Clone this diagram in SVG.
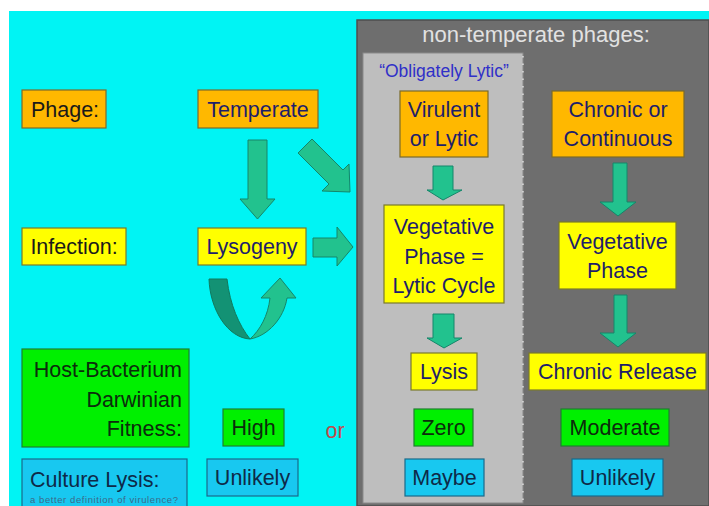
<svg xmlns="http://www.w3.org/2000/svg" width="709" height="506" viewBox="0 0 709 506">
<style>
text{font-family:"Liberation Sans",Arial,sans-serif;font-size:21.5px;text-anchor:middle}
.or{fill:#FFB800;stroke:#7A6A2A;stroke-width:1.2}
.ye{fill:#FFFF00;stroke:#7A7A2A;stroke-width:1.2}
.gr{fill:#00F000;stroke:#1F7F2F;stroke-width:1.2}
.bl{fill:#18C8F0;stroke:#1A6A8A;stroke-width:1.2}
.tn{fill:#1E1E6A}
.tk{fill:#1A1A1A}
.tg{fill:#0C2C0C}
.tb{fill:#0E2A48}
.arr{fill:#22C28E;stroke:#14866A;stroke-width:1}
</style>
<rect x="0" y="0" width="709" height="506" fill="#FFFFFF"/>
<rect x="9" y="11" width="700" height="495" fill="#00F4F4"/>
<rect x="357" y="20" width="352" height="486" fill="#6E6E6E" stroke="#4E4E4E" stroke-width="1.5"/>
<rect x="363" y="53" width="160" height="450" fill="#BEBEBE" stroke="#8A8A8A" stroke-width="1"/>
<line x1="523" y1="56" x2="523" y2="500" stroke="#F0F0F0" stroke-width="1.2" stroke-dasharray="1.5 6"/>
<text x="536" y="42" style="font-size:22px;fill:#E2E2E2">non-temperate phages:</text>
<text x="444" y="77" style="font-size:17.5px;fill:#3030C8">“Obligately Lytic”</text>

<g id="connectors">
<polygon class="arr" points="248,140 267,140 267,199 275,199 257.5,219 240,199 248,199"/>
<polygon class="arr" points="298,153 312,139 343,170 349,164 350,192 322,191 329,184"/>
<polygon class="arr" points="313,238 337,238 337,227 353,247 337,266 337,257 313,257"/>
<path d="M209,279 L227,279 C230,305 239,325 250,339 C228,338 210,310 209,279 Z" fill="#139274" stroke="#0F7A5E" stroke-width="1"/>
<path d="M250,339 C268,336 284,318 287,298 L296,298 L280,278 L261,298 L270,298 C268,316 260,330 250,339 Z" class="arr"/>
<polygon class="arr" points="433,166 453,166 453,190 462,190 443,200 427,190 433,190"/>
<polygon class="arr" points="613,163 627,163 627,202 636,202 618,216 600,202 613,202"/>
<polygon class="arr" points="433,314 454,314 454,338 462,338 444,348 427,338 433,338"/>
<polygon class="arr" points="614,295 627,295 627,333 636,333 618,347 600,333 614,333"/>
</g>

<g id="phage"><rect class="or" x="22" y="90" width="84" height="38"/><text class="tk" x="65" y="117">Phage:</text></g>
<g id="temperate"><rect class="or" x="198" y="90" width="120" height="38"/><text class="tn" x="258" y="117">Temperate</text></g>
<g id="infection"><rect class="ye" x="22" y="228" width="104" height="37"/><text class="tk" x="74" y="254">Infection:</text></g>
<g id="lysogeny"><rect class="ye" x="198" y="228" width="108" height="37"/><text class="tn" x="252" y="254">Lysogeny</text></g>
<g id="fitness"><rect class="gr" x="22" y="349" width="167" height="98"/>
<text class="tg" x="182" y="377" style="text-anchor:end">Host-Bacterium</text>
<text class="tg" x="182" y="407" style="text-anchor:end">Darwinian</text>
<text class="tg" x="182" y="436" style="text-anchor:end">Fitness:</text></g>
<g id="high"><rect class="gr" x="223" y="409" width="61" height="37"/><text class="tg" x="253.5" y="435">High</text></g>
<g id="or"><text x="335" y="438" style="fill:#C04848">or</text></g>
<g id="culture"><rect class="bl" x="22" y="459" width="165" height="52"/>
<text class="tb" x="30" y="487" style="text-anchor:start">Culture Lysis:</text>
<text x="30" y="503" style="text-anchor:start;font-size:9.5px;fill:#3A6A8A" textLength="148">a better definition of virulence?</text></g>
<g id="unlikely1"><rect class="bl" x="207" y="459" width="91" height="37"/><text class="tb" x="252.5" y="485">Unlikely</text></g>

<g id="virulent"><rect class="or" x="400" y="91" width="88" height="66"/>
<text class="tn" x="444" y="117">Virulent</text><text class="tn" x="444" y="146">or Lytic</text></g>
<g id="chronic"><rect class="or" x="552" y="91" width="132" height="66"/>
<text class="tn" x="618" y="117">Chronic or</text><text class="tn" x="618" y="146">Continuous</text></g>
<g id="vegetative1"><rect class="ye" x="384" y="205" width="120" height="98"/>
<text class="tn" x="444" y="234">Vegetative</text><text class="tn" x="444" y="263.5">Phase =</text><text class="tn" x="444" y="293">Lytic Cycle</text></g>
<g id="vegetative2"><rect class="ye" x="559" y="222" width="117" height="67"/>
<text class="tn" x="617.5" y="249">Vegetative</text><text class="tn" x="617.5" y="278">Phase</text></g>
<g id="lysis"><rect class="ye" x="411" y="353" width="66" height="37"/><text class="tn" x="444" y="379">Lysis</text></g>
<g id="release"><rect class="ye" x="529" y="353" width="177" height="37"/><text class="tn" x="617.5" y="379">Chronic Release</text></g>
<g id="zero"><rect class="gr" x="414" y="409" width="59" height="37"/><text class="tg" x="443.5" y="435">Zero</text></g>
<g id="moderate"><rect class="gr" x="561" y="409" width="108" height="37"/><text class="tg" x="615" y="435">Moderate</text></g>
<g id="maybe"><rect class="bl" x="405" y="459" width="79" height="37"/><text class="tb" x="444.5" y="485">Maybe</text></g>
<g id="unlikely2"><rect class="bl" x="572" y="459" width="91" height="37"/><text class="tb" x="617.5" y="485">Unlikely</text></g>
</svg>
